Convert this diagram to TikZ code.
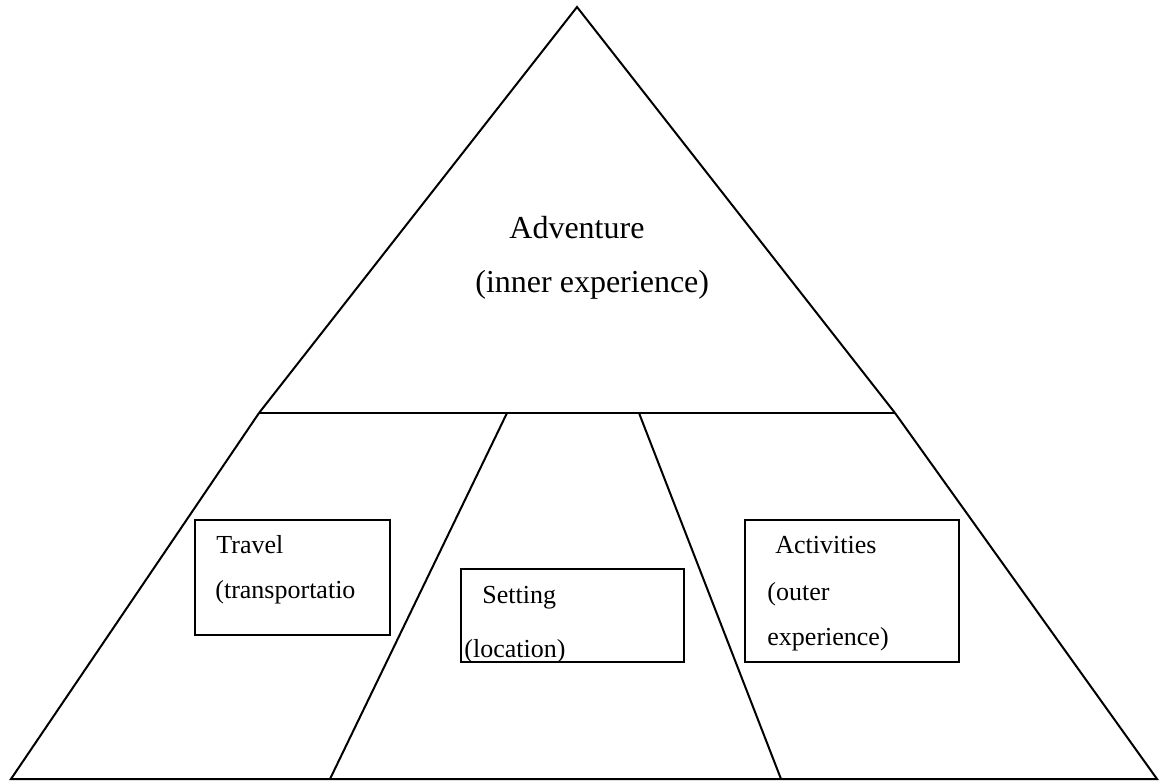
\documentclass[tikz,border=0pt]{standalone}
\usepackage{fontspec}
\setmainfont{Liberation Serif}
\begin{document}
\begin{tikzpicture}[x=0.5pt,y=-0.5pt,
  edge/.style={line width=1pt, line join=miter},
  boxnode/.style={draw, line width=1.1pt, rectangle, inner sep=0pt, anchor=north west},
  big/.style={anchor=base west, inner sep=0pt, font=\fontsize{16}{19}\selectfont},
  small/.style={anchor=base west, inner sep=0pt, font=\fontsize{13}{16}\selectfont}]
\useasboundingbox (0,0) rectangle (1160,781);
\coordinate (apex) at (577,7);
\coordinate (ml) at (259,413);
\coordinate (mr) at (895,413);
\coordinate (bl) at (11,779);
\coordinate (br) at (1157,779);
\coordinate (d1t) at (507,413);
\coordinate (d1b) at (330,779);
\coordinate (d2t) at (639,413);
\coordinate (d2b) at (781,779);
\draw[edge] (ml) -- (apex) -- (mr);
\draw[edge, line width=1.2pt] (ml) -- (mr);
\draw[edge] (ml) -- (bl) -- (br) -- (mr);
\draw[edge] (d1t) -- (d1b);
\draw[edge] (d2t) -- (d2b);
% title
\node[big] (adv) at (509,238) {Adventure};
\node[big] (inner) at (475,292) {(inner experience)};
% travel box
\node[boxnode, minimum width=97.5pt, minimum height=57.5pt] (travel) at (194,519) {};
\node[small] (travelA) at (216,553) {Travel};
\node[small] (travelB) at (215,598) {(transportatio};
% setting box
\begin{scope}
\clip (460,568) rectangle (683,661);
\node[small] (settingA) at (482,603) {Setting};
\node[small] (settingB) at (464,657) {(location)};
\end{scope}
\node[boxnode, minimum width=111.5pt, minimum height=46.5pt] (setting) at (460,568) {};
% activities box
\node[boxnode, minimum width=107pt, minimum height=71pt] (activities) at (744,519) {};
\node[small] (actA) at (775,553) {Activities};
\node[small] (actB) at (767,600) {(outer};
\node[small] (actC) at (767,645) {experience)};
\end{tikzpicture}
\end{document}
